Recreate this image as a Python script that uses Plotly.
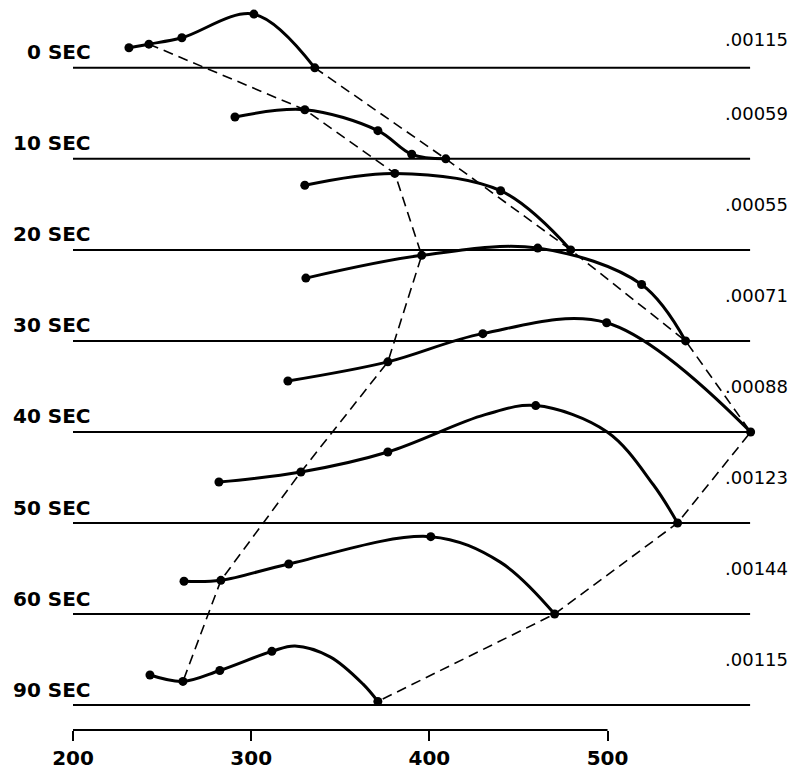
import plotly.graph_objects as go

# ---- data ----
rows = ["0 SEC", "10 SEC", "20 SEC", "30 SEC", "40 SEC", "50 SEC", "60 SEC", "90 SEC"]
rates = [".00115", ".00059", ".00055", ".00071", ".00088", ".00123", ".00144", ".00115"]
x_ticks = [200, 300, 400, 500]

# x position of each plotted point, per time row
curve_x = [
    [231.4, 242.6, 261.1, 301.5, 335.7],
    [290.9, 330.1, 371.1, 390.1, 409.2],
    [330.1, 380.6, 440.0, 479.3],
    [330.7, 395.7, 460.8, 519.1, 543.8],
    [320.6, 376.7, 430.0, 499.5, 580.3],
    [281.9, 327.9, 376.7, 431.3, 459.7, 499.8, 525.7, 539.3],
    [262.3, 283.0, 321.1, 400.8, 439.8, 470.3],
    [243.2, 261.7, 282.4, 311.6, 324.6, 344.3, 362.8, 371.1],
]
# height of each point above its row line (in row spacings)
curve_h = [
    [0.22, 0.26, 0.33, 0.59, 0.00],
    [0.46, 0.54, 0.31, 0.05, 0.00],
    [0.71, 0.84, 0.65, 0.00],
    [0.69, 0.94, 1.02, 0.62, 0.00],
    [0.56, 0.77, 1.08, 1.20, 0.00],
    [0.45, 0.56, 0.78, 1.19, 1.29, 1.00, 0.42, 0.00],
    [0.36, 0.37, 0.55, 0.85, 0.57, 0.00],
    [0.33, 0.26, 0.38, 0.59, 0.65, 0.53, 0.23, 0.04],
]
# 1 = point drawn with a dot, 0 = curve vertex only
curve_dot = [
    [1, 1, 1, 1, 1],
    [1, 1, 1, 1, 1],
    [1, 1, 1, 1],
    [1, 1, 1, 1, 1],
    [1, 1, 1, 1, 1],
    [1, 1, 1, 0, 1, 0, 0, 1],
    [1, 1, 1, 1, 0, 1],
    [1, 1, 1, 1, 0, 0, 0, 1],
]
dash_a_index = 1    # dashed line joins the second point of every curve
dash_b_index = -1   # dashed line joins the last point of every curve

x_line = [200, 580]

# ---- figure ----
n = len(rows)
base = [n - 1 - i for i in range(n)]
INK = "black"
FONT = "DejaVu Sans"

fig = go.Figure()

for i in range(n):
    fig.add_trace(go.Scatter(x=x_line, y=[base[i], base[i]], mode="lines",
                             line=dict(color=INK, width=2), hoverinfo="skip",
                             showlegend=False))

for i in range(n):
    ys = [base[i] + h for h in curve_h[i]]
    fig.add_trace(go.Scatter(x=curve_x[i], y=ys, mode="lines",
                             line=dict(color=INK, width=3, shape="spline", smoothing=1.0),
                             hoverinfo="skip", showlegend=False))
    dx = [x for x, d in zip(curve_x[i], curve_dot[i]) if d]
    dy = [y for y, d in zip(ys, curve_dot[i]) if d]
    fig.add_trace(go.Scatter(x=dx, y=dy, mode="markers",
                             marker=dict(color=INK, size=9, opacity=1,
                                         line=dict(color=INK, width=0)),
                             showlegend=False, name=rows[i]))

for idx in (dash_a_index, dash_b_index):
    xs = [curve_x[i][idx] for i in range(n)]
    ys = [base[i] + curve_h[i][idx] for i in range(n)]
    fig.add_trace(go.Scatter(x=xs, y=ys, mode="lines",
                             line=dict(color=INK, width=1.6, dash="10px,6px"),
                             hoverinfo="skip", showlegend=False))

ann = []
for i in range(n):
    ann.append(dict(x=211, y=base[i] + 0.17, xref="x", yref="y",
                    text="<b>" + rows[i] + "</b>",
                    showarrow=False, xanchor="right", yanchor="middle",
                    font=dict(family=FONT, size=20, color=INK)))
    ann.append(dict(x=565, y=base[i] + (0.31 if i == 0 else 0.5), xref="x", yref="y",
                    text=rates[i], showarrow=False, xanchor="left", yanchor="middle",
                    font=dict(family=FONT, size=18, color=INK)))

fig.update_layout(
    template="simple_white",
    width=809, height=770,
    margin=dict(l=73, r=50, t=0, b=38),
    paper_bgcolor="white", plot_bgcolor="white",
    annotations=ann,
    shapes=[dict(type="line", xref="x", yref="paper", x0=x_ticks[0], x1=x_ticks[-1],
                 y0=0, y1=0, opacity=1, layer="above",
                 line=dict(color=INK, width=2))],
    xaxis=dict(range=[200, 585], tickvals=x_ticks, ticktext=["<b>%d</b>" % t for t in x_ticks],
               ticks="outside", ticklen=10,
               tickwidth=2, tickcolor=INK, showline=False, showgrid=False,
               zeroline=False, tickfont=dict(family=FONT, size=20, color=INK)),
    yaxis=dict(range=[-0.2739, 7.745], visible=False),
    font=dict(family=FONT, color=INK),
)

fig.write_html("out.html", post_script="document.body.style.margin='0px';",
               config={"displayModeBar": False})
